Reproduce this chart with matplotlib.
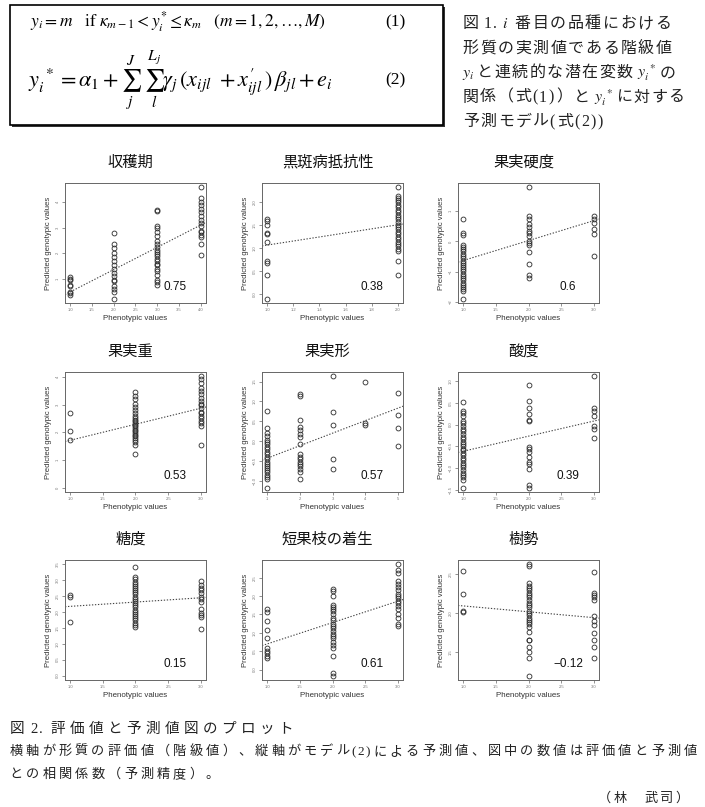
"""
Fig. 1 / Fig. 2 of the pear genomic-prediction summary: model box, caption and
a 3x3 grid of phenotypic (class) vs predicted genotypic values, R-plot style.
"""
import re

import matplotlib

matplotlib.use("Agg")
import matplotlib.pyplot as plt
from matplotlib.patches import Rectangle
from matplotlib.ticker import MultipleLocator
from matplotlib.transforms import IdentityTransform

plt.rcParams["font.family"] = ["Liberation Sans", "Noto Sans CJK JP"]
plt.rcParams["mathtext.fontset"] = "stix"

W, H = 705, 807
SERIF_CJK = ["Liberation Serif", "Noto Sans CJK JP"]

TITLES = ["収穫期", "黒斑病抵抗性", "果実硬度", "果実重", "果実形", "酸度", "糖度", "短果枝の着生", "樹勢"]
R_TEXT = ["0.75", "0.38", "0.6", "0.53", "0.57", "0.39", "0.15", "0.61", "−0.12"]

# predicted genotypic values, grouped by phenotypic class
harvest_cls = [1, 2, 3, 4]
harvest_vals = [
    [1.06, 1.00, 0.94, 0.77, 0.71, 0.48, 0.42, 0.35],
    [2.79, 2.34, 2.19, 2.01, 1.84, 1.69, 1.52, 1.36, 1.23, 1.10, 0.94, 0.90, 0.71, 0.58, 0.48, 0.22],
    [3.69, 3.66, 3.08, 2.97, 2.82, 2.66, 2.49, 2.34, 2.23, 2.14, 2.06, 1.97, 1.87, 1.78, 1.68, 1.58,
     1.52, 1.39, 1.29, 1.13, 0.96, 0.87, 0.74],
    [4.57, 4.14, 4.01, 3.88, 3.73, 3.60, 3.47, 3.31, 3.18, 3.08, 2.88, 2.82, 2.71, 2.62, 2.36, 1.94],
]
blackspot_cls = [1, 2]
blackspot_vals = [
    [1.63, 1.59, 1.51, 1.34, 1.30, 1.13, 0.73, 0.68, 0.43, -0.09],
    [2.32, 2.13, 2.09, 2.05, 2.00, 1.94, 1.89, 1.84, 1.79, 1.73, 1.68, 1.63, 1.57, 1.51, 1.46, 1.41,
     1.36, 1.30, 1.25, 1.20, 1.14, 1.09, 1.04, 0.99, 0.94, 0.73, 0.43],
]
firmness_cls = [1, 2, 3]
firmness_vals = [
    [0.73, 0.29, 0.22, -0.11, -0.19, -0.26, -0.33, -0.41, -0.48, -0.55, -0.63, -0.70, -0.77, -0.85,
     -0.92, -0.99, -1.07, -1.14, -1.21, -1.29, -1.36, -1.43, -1.51, -1.58, -1.65, -1.89],
    [1.79, 0.84, 0.75, 0.58, 0.47, 0.36, 0.29, 0.18, 0.03, -0.04, -0.11, -0.35, -0.74, -1.10, -1.21],
    [0.84, 0.73, 0.62, 0.42, 0.25, -0.49],
]
weight_cls = [1, 2, 3]
weight_vals = [
    [2.69, 2.03, 1.71],
    [3.44, 3.32, 3.20, 3.04, 2.93, 2.81, 2.69, 2.60, 2.53, 2.45, 2.39, 2.33, 2.27, 2.21, 2.15, 2.09,
     2.03, 1.97, 1.91, 1.85, 1.79, 1.71, 1.64, 1.55, 1.23],
    [4.02, 3.92, 3.80, 3.61, 3.49, 3.37, 3.25, 3.13, 3.04, 2.99, 2.87, 2.75, 2.69, 2.60, 2.51, 2.41,
     2.33, 2.21, 1.53],
]
shape_cls = [1, 2, 3, 4, 5]
shape_vals = [
    [0.75, 0.32, 0.21, 0.13, 0.04, -0.02, -0.08, -0.15, -0.21, -0.27, -0.33, -0.40, -0.46, -0.52,
     -0.57, -0.63, -0.68, -0.73, -0.79, -0.85, -0.90, -0.96, -1.17],
    [1.18, 1.13, 0.52, 0.35, 0.29, 0.18, 0.10, -0.08, -0.33, -0.40, -0.46, -0.52, -0.57, -0.63, -0.71,
     -0.77, -0.96],
    [1.63, 0.73, 0.40, -0.46, -0.71],
    [1.50, 0.46, 0.40],
    [1.21, 0.67, 0.32, -0.13],
]
acidity_cls = [1, 2, 3]
acidity_vals = [
    [0.52, 0.32, 0.27, 0.19, 0.09, 0.04, -0.04, -0.09, -0.15, -0.21, -0.29, -0.34, -0.39, -0.44, -0.49,
     -0.55, -0.59, -0.64, -0.70, -0.76, -0.82, -0.87, -0.92, -0.98, -1.05, -1.10, -1.15, -1.21, -1.27,
     -1.44],
    [0.91, 0.55, 0.38, 0.24, 0.11, 0.08, -0.52, -0.57, -0.62, -0.74, -0.85, -0.91, -1.02, -1.38, -1.44],
    [1.10, 0.38, 0.30, 0.19, -0.04, -0.11, -0.30],
]
sugar_cls = [1, 2, 3]
sugar_vals = [
    [2.54, 2.48, 1.70],
    [3.43, 3.12, 3.04, 2.96, 2.89, 2.82, 2.76, 2.69, 2.62, 2.56, 2.48, 2.41, 2.35, 2.28, 2.21, 2.15,
     2.08, 2.01, 1.95, 1.88, 1.81, 1.74, 1.67, 1.60, 1.54],
    [2.99, 2.84, 2.76, 2.69, 2.59, 2.48, 2.41, 2.33, 2.11, 1.98, 1.91, 1.85, 1.47],
]
spur_cls = [1, 2, 3]
spur_vals = [
    [1.65, 1.56, 1.32, 1.07, 0.85, 0.58, 0.52, 0.46, 0.38, 0.31],
    [2.19, 2.13, 2.01, 1.77, 1.71, 1.65, 1.59, 1.52, 1.41, 1.34, 1.25, 1.18, 1.12, 1.05, 0.98, 0.91,
     0.85, 0.76, 0.67, 0.58, 0.38, -0.09, -0.16],
    [2.86, 2.72, 2.63, 2.41, 2.34, 2.25, 2.16, 2.07, 2.01, 1.95, 1.88, 1.80, 1.74, 1.65, 1.52, 1.41,
     1.25, 1.18],
]
vigor_cls = [1, 2, 3]
vigor_vals = [
    [2.54, 2.24, 2.03, 2.01],
    [2.62, 2.60, 2.38, 2.35, 2.32, 2.29, 2.26, 2.23, 2.20, 2.16, 2.13, 2.10, 2.07, 2.03, 2.00, 1.97,
     1.94, 1.91, 1.89, 1.86, 1.82, 1.76, 1.66, 1.66, 1.57, 1.50, 1.42, 1.20],
    [2.52, 2.26, 2.23, 2.20, 2.16, 1.96, 1.90, 1.84, 1.74, 1.65, 1.56, 1.42],
]

# regression line value at the lowest and highest class
TREND = [(0.48, 3.10), (1.07, 1.51), (-0.63, 0.69), (1.71, 2.87), (-0.43, 0.83),
         (-0.61, 0.08), (2.18, 2.45), (0.70, 1.86), (2.09, 1.94)]
# panels whose y range was fixed to start at zero
YLIM_FIXED = {3: (0.0, 4.02), 6: (0.0, 3.5)}
X_STEP = [0.5, 0.2, 0.5, 0.5, 1, 0.5, 0.5, 0.5, 0.5]
Y_STEP = [1, 0.5, 1, 1, 0.5, 0.5, 0.5, 0.5, 0.5]

PANELS = [
    (harvest_cls, harvest_vals), (blackspot_cls, blackspot_vals), (firmness_cls, firmness_vals),
    (weight_cls, weight_vals), (shape_cls, shape_vals), (acidity_cls, acidity_vals),
    (sugar_cls, sugar_vals), (spur_cls, spur_vals), (vigor_cls, vigor_vals),
]

AX_LEFT = [65, 262, 458]
AX_TOP = [183, 372, 560]
AX_W, AX_H = 141, 120


def spaced(fig, x, y, s, size, pitch, family, color="#222"):
    """Letter-spaced line: CJK chars on a fixed pitch, other tokens measured."""
    renderer = fig.canvas.get_renderer()
    cx = x
    for tok in re.findall(r"\$[^$]+\$|.", s):
        if tok == " ":
            cx += size * 0.35
        elif len(tok) == 1 and ord(tok) > 0x2E80:
            fig.text(cx + pitch / 2, H - y, tok, fontsize=size, family=family, color=color,
                     ha="center", va="baseline", transform=IdentityTransform())
            cx += pitch
        else:
            t = fig.text(cx, H - y, tok, fontsize=size, family=family, color=color,
                         ha="left", va="baseline", transform=IdentityTransform())
            cx += t.get_window_extent(renderer).width + 1.5


fig = plt.figure(figsize=(W / 100, H / 100), dpi=100)

# --- model box (Fig. 1) ---
fig.patches.append(Rectangle((12, H - 127), 433, 120, transform=IdentityTransform(),
                             facecolor="#333", edgecolor="none"))
fig.patches.append(Rectangle((10, H - 125), 433, 120, transform=IdentityTransform(),
                             facecolor="white", edgecolor="black", lw=1.2))
fig.text(30, H - 22, r"$y_i = m\quad \mathrm{if}\ \kappa_{m-1} < y_i^{*} \leq \kappa_m\quad (m = 1, 2, \ldots, M)$",
         fontsize=12.5, va="center", transform=IdentityTransform())
fig.text(385, H - 22, "(1)", fontsize=12.5, family="Liberation Serif", va="center",
         transform=IdentityTransform())
fig.text(28, H - 80,
         r"$y_i^{\ *} = \alpha_1 + \sum_j^J\ \sum_l^{L_j} \gamma_j\,(x_{ijl}\ + x^{\prime}_{ijl}\,)\,\beta_{jl} + e_i$",
         fontsize=16, va="center", transform=IdentityTransform())
fig.text(385, H - 80, "(2)", fontsize=12.5, family="Liberation Serif", va="center",
         transform=IdentityTransform())

CAP1 = [
    "図 1. $i$ 番目の品種における",
    "形質の実測値である階級値",
    "$y_i$と連続的な潜在変数 $y_i^{\\ *}$の",
    "関係（式(1)）と $y_i^{\\ *}$に対する",
    "予測モデル(式(2))",
]
for i, line in enumerate(CAP1):
    spaced(fig, 462, 28 + 24.5 * i, line, 11.5, 17.5, SERIF_CJK)

# --- scatter grid (Fig. 2) ---
for k, (cls, vals) in enumerate(PANELS):
    row, col = divmod(k, 3)
    ax = fig.add_axes([AX_LEFT[col] / W, 1 - (AX_TOP[row] + AX_H) / H, AX_W / W, AX_H / H])
    for c, v in zip(cls, vals):
        ax.plot([c] * len(v), v, "o", ms=3.5, mfc="none", mec="#2a2a2a", mew=0.6)
    ax.axline((cls[0], TREND[k][0]), (cls[-1], TREND[k][1]), color="#444", lw=0.8, ls=(0, (1.2, 1.5)))
    ax.margins(0.04)
    if k in YLIM_FIXED:
        lo, hi = YLIM_FIXED[k]
        pad = 0.04 * (hi - lo)
        ax.set_ylim(lo - pad, hi + pad)
    ax.xaxis.set_major_locator(MultipleLocator(X_STEP[k]))
    ax.yaxis.set_major_locator(MultipleLocator(Y_STEP[k]))
    ax.tick_params(direction="out", length=2.2, width=0.5, color="#666", labelsize=3,
                   labelcolor="#777", pad=1.5)
    plt.setp(ax.get_yticklabels(), rotation=90, va="center")
    for sp in ax.spines.values():
        sp.set_color("#666")
        sp.set_linewidth(0.7)
    ax.set_xlabel("Phenotypic values", fontsize=5.7, color="#333", labelpad=2)
    ax.set_ylabel("Predicted genotypic values", fontsize=5.6, color="#333", labelpad=3)
    ax.text(0.78, 0.13, R_TEXT[k], transform=ax.transAxes, fontsize=8.5, ha="center", va="center",
            color="#111")
    fig.text((AX_LEFT[col] + AX_W / 2 - 5) / W, 1 - (AX_TOP[row] - 21) / H, TITLES[k],
             fontsize=11, ha="center", va="center", family="Noto Sans CJK JP", color="#111")

# --- bottom caption ---
spaced(fig, 8, 733, "図 2. 評価値と予測値図のプロット", 10.5, 19, SERIF_CJK)
spaced(fig, 8, 755, "横軸が形質の評価値（階級値）、縦軸がモデル(2)による予測値、図中の数値は評価値と予測値",
       9.5, 16.35, SERIF_CJK)
spaced(fig, 8, 778, "との相関係数（予測精度）。", 9.5, 16.35, SERIF_CJK)
spaced(fig, 597, 802, "（林　武司）", 9.5, 15.5, SERIF_CJK)

fig.savefig("out.png", dpi=100)
